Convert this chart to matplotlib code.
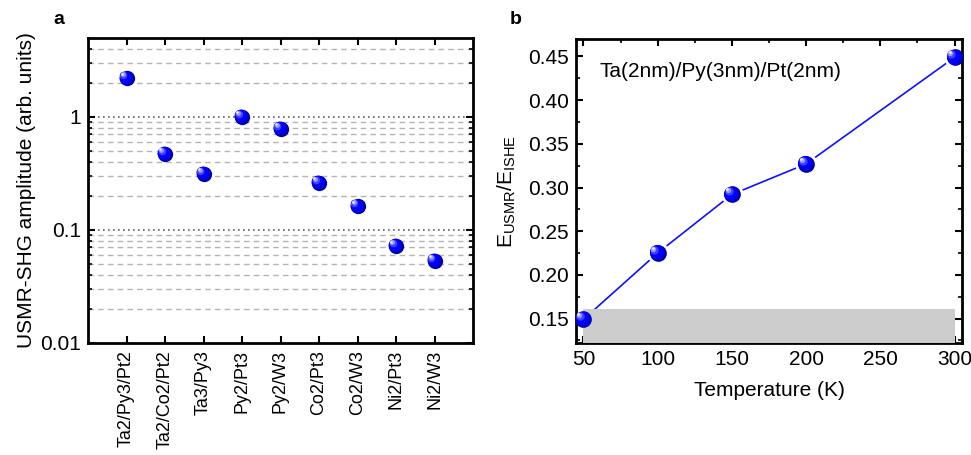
import matplotlib
matplotlib.use("Agg")
import matplotlib.pyplot as plt
from matplotlib.transforms import offset_copy
from matplotlib.ticker import FixedLocator, FixedFormatter, MultipleLocator, FormatStrFormatter
import numpy as np

plt.rcParams['font.family'] = ['Liberation Sans', 'DejaVu Sans']
plt.rcParams['mathtext.default'] = 'regular'

# ---- data ----
samples = ["Ta2/Py3/Pt2", "Ta2/Co2/Pt2", "Ta3/Py3", "Py2/Pt3", "Py2/W3",
           "Co2/Pt3", "Co2/W3", "Ni2/Pt3", "Ni2/W3"]
amplitude = [2.2, 0.47, 0.313, 1.0, 0.79, 0.262, 0.162, 0.072, 0.0535]

temperature = [50, 100, 150, 200, 300]
ratio = [0.149, 0.225, 0.292, 0.327, 0.449]
shade_T = [50, 300]
shade_top = 0.161
sample_text = "Ta(2nm)/Py(3nm)/Pt(2nm)"

FS = 15
fig = plt.figure(figsize=(9.71, 4.55), dpi=100)
W, H = 971, 455
axa = fig.add_axes([88 / W, (H - 343) / H, 385 / W, 305 / H])
axb = fig.add_axes([576 / W, (H - 343) / H, 386 / W, 304 / H])


def spheres(ax, xs, ys, ms=11, z=5):
    layers = [
        (1.00, (0.0, 0.0, 0.62), 0.0),
        (0.90, (0.0, 0.0, 0.85), 0.05),
        (0.75, (0.0, 0.0, 1.0), 0.10),
        (0.50, (0.25, 0.25, 1.0), 0.20),
        (0.32, (0.6, 0.6, 1.0), 0.26),
        (0.16, (0.95, 0.95, 1.0), 0.30),
    ]
    for frac, col, off in layers:
        tr = offset_copy(ax.transData, fig=fig, x=-off * ms, y=off * ms, units='points')
        ax.plot(xs, ys, ls='none', marker='o', ms=ms * frac, mfc=col, mec='none',
                transform=tr, zorder=z, clip_on=False)


# ---- panel a ----
x = np.arange(1, len(samples) + 1)
axa.set_yscale('log')
axa.set_xlim(0, len(samples) + 1)
axa.set_ylim(0.01, 5)
for dec in [0.01, 0.1, 1]:
    for m in range(2, 10):
        v = dec * m
        if v < 5:
            axa.axhline(v, color='#b4b4b4', lw=1.0, ls=(0, (4, 3)), zorder=1)
for v in [0.1, 1]:
    axa.axhline(v, color='#606060', lw=1.2, ls=(0, (1, 2)), zorder=1)
spheres(axa, x, amplitude, ms=11)
axa.set_xticks(x)
axa.set_xticklabels(samples, rotation=90, fontsize=13)
axa.yaxis.set_major_locator(FixedLocator([0.01, 0.1, 1]))
axa.yaxis.set_major_formatter(FixedFormatter(["0.01", "0.1", "1"]))
minors = [d * m for d in [0.01, 0.1, 1] for m in range(2, 10) if d * m < 5]
axa.yaxis.set_minor_locator(FixedLocator(minors))
axa.yaxis.set_minor_formatter(FixedFormatter([""] * len(minors)))
axa.tick_params(axis='both', which='major', direction='in', length=5, width=1.5,
                top=True, right=True, labelsize=FS, pad=5)
axa.tick_params(axis='x', labelsize=13)
axa.tick_params(axis='y', which='minor', direction='in', length=3, width=1.2,
                left=True, right=True)
axa.tick_params(axis='x', which='minor', bottom=False, top=False)
axa.set_ylabel("USMR-SHG amplitude (arb. units)", fontsize=FS, labelpad=3)
for s in axa.spines.values():
    s.set_linewidth(2.0)
fig.text(53 / W, 1 - 20 / H, "a", fontsize=14, fontweight='bold', va='center')

# ---- panel b ----
axb.set_xlim(45, 305)
axb.set_ylim(0.122, 0.470)
axb.plot(temperature, ratio, color='#1010ff', lw=1.2, zorder=1)
axb.plot(temperature, ratio, ls='none', marker='o', ms=16, mfc='white', mec='none', zorder=2,
         clip_on=False)
axb.fill_between(shade_T, axb.get_ylim()[0], shade_top, color='#cccccc', lw=0, zorder=3)
spheres(axb, temperature, ratio, ms=12)
axb.xaxis.set_major_locator(MultipleLocator(50))
axb.xaxis.set_minor_locator(MultipleLocator(25))
axb.yaxis.set_major_locator(MultipleLocator(0.05))
axb.yaxis.set_minor_locator(MultipleLocator(0.025))
axb.yaxis.set_major_formatter(FormatStrFormatter('%.2f'))
axb.tick_params(axis='both', which='major', direction='in', length=5, width=1.5,
                top=True, right=True, labelsize=FS, pad=5)
axb.tick_params(axis='both', which='minor', direction='in', length=3, width=1.2,
                top=True, right=True)
axb.set_xlabel("Temperature (K)", fontsize=FS, labelpad=9)
axb.set_ylabel(r"E$_{USMR}$/E$_{ISHE}$", fontsize=FS, labelpad=7)
axb.text(61, 0.4325, sample_text, fontsize=FS, va='center', ha='left')
for s in axb.spines.values():
    s.set_linewidth(2.0)
fig.text(510 / W, 1 - 20 / H, "b", fontsize=14, fontweight='bold', va='center')

fig.savefig("out.png", dpi=100)
